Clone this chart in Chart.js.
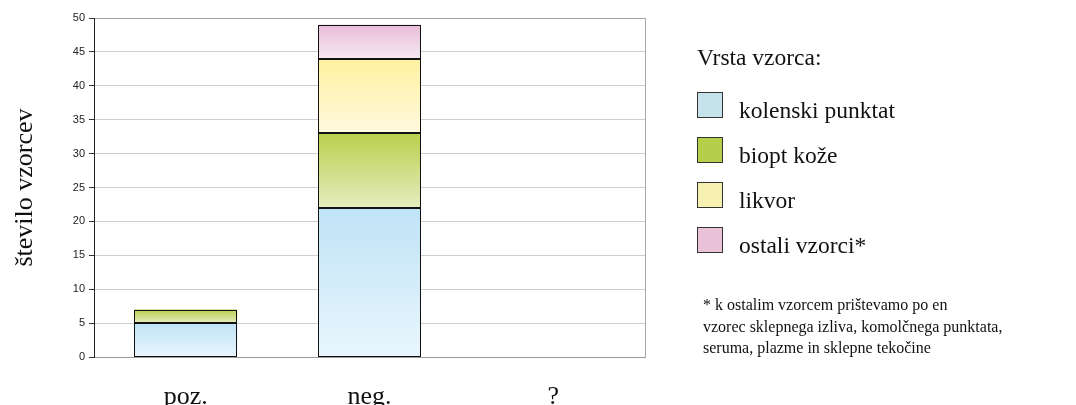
<!DOCTYPE html>
<html>
<head>
<meta charset="utf-8">
<script src="https://cdn.jsdelivr.net/npm/chart.js@4/dist/chart.umd.min.js"></script>
<style>
  html, body { margin: 0; padding: 0; background: #ffffff; }
  #wrap { position: relative; width: 1076px; height: 405px; }
</style>
</head>
<body>
<div id="wrap"><canvas id="c"></canvas></div>
<script>
// Categories (test result) and sample counts per sample type
const categories = ['poz.', 'neg.', '?'];
const kolenskiPunktat = [5, 22, 0];
const bioptKoze = [2, 11, 0];
const likvor = [0, 11, 0];
const ostaliVzorci = [0, 5, 0];

const seriesLabels = ['kolenski punktat', 'biopt kože', 'likvor', 'ostali vzorci*'];
const seriesValues = [kolenskiPunktat, bioptKoze, likvor, ostaliVzorci];

const yTicks = [0, 5, 10, 15, 20, 25, 30, 35, 40, 45, 50];

const legendTitle = 'Vrsta vzorca:';
const footnoteLines = [
  '* k ostalim vzorcem prištevamo po en',
  'vzorec sklepnega izliva, komolčnega punktata,',
  'seruma, plazme in sklepne tekočine'
];

// Colour per series: gradient top, gradient bottom, legend swatch
const seriesColors = [
  { top: '#bfe3f6', bottom: '#e9f6fd', swatch: '#c6e2ea' },
  { top: '#b9cf4c', bottom: '#e6edc0', swatch: '#b5cf4b' },
  { top: '#fff1a0', bottom: '#fff9de', swatch: '#f6f1b0' },
  { top: '#e8bbd8', bottom: '#f6e9f2', swatch: '#e9c1d9' }
];

// Vertical gradient spanning exactly one stacked segment
function segmentFill(ctx, si) {
  const chart = ctx.chart;
  const y = chart.scales.y;
  const col = seriesColors[si];
  if (!chart.chartArea || !y || ctx.dataIndex === undefined) return col.top;
  const i = ctx.dataIndex;
  let start = 0;
  for (let k = 0; k < si; k++) start += seriesValues[k][i];
  const end = start + seriesValues[si][i];
  const pTop = y.getPixelForValue(end);
  const pBot = y.getPixelForValue(start);
  if (!(pBot - pTop > 0.5)) return col.top;
  const g = chart.ctx.createLinearGradient(0, pTop, 0, pBot);
  g.addColorStop(0, col.top);
  g.addColorStop(1, col.bottom);
  return g;
}

const datasets = seriesLabels.map((label, si) => ({
  label,
  data: seriesValues[si],
  backgroundColor: (ctx) => segmentFill(ctx, si),
  borderWidth: 0,
  categoryPercentage: 1.0,
  barPercentage: 0.56
}));

// Crisp black outline around every non-empty bar segment
const segmentOutlines = {
  id: 'segmentOutlines',
  afterDatasetsDraw(chart) {
    const c = chart.ctx;
    c.save();
    c.strokeStyle = '#111111';
    c.lineWidth = 1;
    chart.data.datasets.forEach((ds, di) => {
      const meta = chart.getDatasetMeta(di);
      meta.data.forEach((bar, i) => {
        if (!ds.data[i]) return;
        const p = bar.getProps(['x', 'y', 'base', 'width'], true);
        const l = Math.round(p.x - p.width / 2) + 0.5;
        const r = Math.round(p.x + p.width / 2) - 0.5;
        const t = Math.round(p.y) + 0.5;
        const b = Math.round(p.base) - 0.5;
        c.strokeRect(l, t, r - l, b - t);
      });
    });
    c.restore();
  }
};

// Right-hand frame line plus the sample-type legend and footnote
const sidePanel = {
  id: 'sidePanel',
  afterDatasetsDraw(chart) {
    const c = chart.ctx;
    const a = chart.chartArea;
    c.save();
    c.strokeStyle = '#a8a8a8';
    c.lineWidth = 1;
    c.beginPath();
    c.moveTo(Math.round(a.right) + 0.5, a.top);
    c.lineTo(Math.round(a.right) + 0.5, a.bottom);
    c.stroke();
    c.restore();
  },
  afterDraw(chart) {
    const c = chart.ctx;
    c.save();
    c.fillStyle = '#111111';
    c.textBaseline = 'alphabetic';
    c.textAlign = 'left';
    c.font = '23.5px "Liberation Serif", "Times New Roman", serif';
    c.fillText(legendTitle, 697, 65);
    chart.data.datasets.forEach((ds, i) => {
      const y0 = 92 + i * 45;
      c.fillStyle = seriesColors[i].swatch;
      c.fillRect(697, y0, 26, 26);
      c.strokeStyle = '#333333';
      c.lineWidth = 1;
      c.strokeRect(697.5, y0 + 0.5, 25, 25);
      c.fillStyle = '#111111';
      c.fillText(ds.label, 739, y0 + 26);
    });
    c.font = '16px "Liberation Serif", "Times New Roman", serif';
    footnoteLines.forEach((line, i) => {
      c.fillText(line, 703, 310 + i * 21.5);
    });
    c.restore();
  }
};

new Chart(document.getElementById('c'), {
  type: 'bar',
  data: { labels: categories, datasets },
  options: {
    responsive: true,
    maintainAspectRatio: false,
    animation: false,
    layout: { padding: { left: 0, top: 18, right: 431, bottom: 0 } },
    plugins: { legend: { display: false }, tooltip: { enabled: false } },
    scales: {
      x: {
        stacked: true,
        grid: { display: false, drawTicks: false },
        border: { display: true, color: '#9a9a9a', width: 1 },
        ticks: {
          color: '#111111',
          padding: 25,
          font: { family: '"Liberation Serif", "Times New Roman", serif', size: 26 }
        },
        afterFit(scale) { scale.height = 48; }
      },
      y: {
        stacked: true,
        min: 0,
        max: 50,
        afterBuildTicks(scale) { scale.ticks = yTicks.map(v => ({ value: v })); },
        grid: {
          color: (ctx) => (ctx.tick && ctx.tick.value === 50 ? '#a0a0a0' : '#cfcfcf'),
          tickColor: '#333333',
          tickLength: 5,
          lineWidth: 1
        },
        border: { display: true, color: '#222222', width: 1 },
        ticks: {
          color: '#222222',
          padding: 4,
          font: { family: '"Liberation Sans", Arial, sans-serif', size: 11 }
        },
        title: {
          display: true,
          text: 'število vzorcev',
          color: '#111111',
          padding: { top: 10, bottom: 0 },
          font: { family: '"Liberation Serif", "Times New Roman", serif', size: 26 }
        },
        afterFit(scale) { scale.width = 94; }
      }
    }
  },
  plugins: [segmentOutlines, sidePanel]
});
</script>
</body>
</html>
